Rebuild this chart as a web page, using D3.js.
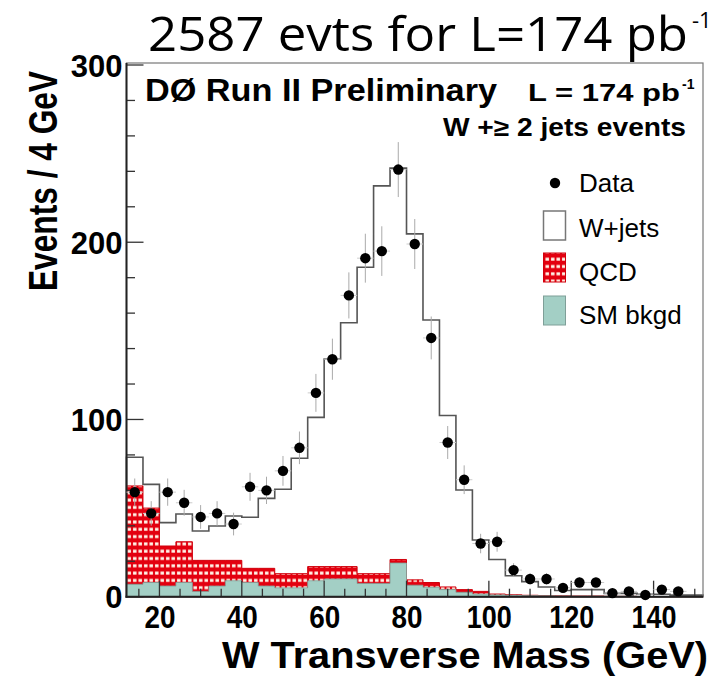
<!DOCTYPE html>
<html><head><meta charset="utf-8">
<script src="https://cdn.jsdelivr.net/npm/d3@7"></script>
<style>body{margin:0;background:#fff}svg{display:block}</style>
</head><body>
<svg id="c" width="728" height="681"></svg>
<script>
// ---- data (4 GeV bins, lower edges) ----
const binLow = [12,16,20,24,28,32,36,40,44,48,52,56,60,64,68,72,76,80,84,88,92,96,100,104,108,112,116,120,124,128,132,136,140,144,148];
const smBkgd = [7,8,6,8,3,6,9,8,6,5,5,9,10,10,7.5,7.5,19,6.5,5.3,4,2.5,1.5,1,0.8,0.6,0.5,0.4,0.3,0.3,0.2,0.2,0.1,0.1,0.1,0.1];
const qcd    = [55.5,42,22.6,23,17.5,14.5,11.5,8,10,8,8,8,7,7,5.5,5.5,2,3,2.7,1.5,1.5,1.5,0.5,0.3,0.2,0.1,0.1,0.1,0.1,0,0,0,0,0,0];
const wjets  = [16.2,13.4,13.2,15.7,16.6,19.4,25,28.8,39.5,47.6,65.1,84.2,117.1,137.6,172.9,218.8,220.8,195.2,148.1,96.7,56.2,29,19.5,10.7,7.7,4.9,3,3.6,3.6,1.7,1.7,1.3,1.3,0.8,0.8];
const dataX  = [14,18,22,26,30,34,38,42,46,50,54,58,62,66,70,74,78,82,86,90,94,98,102,106,110,114,118,122,126,130,134,138,142,146];
const dataY  = [59,47,59,53,45,47,41,62,60,71,84,115,134,170,191,195,241,199,146,87,66,30,31,15,10,10,5,8,8,2,3,1,4,3];
const dataErr= [7.7,6.9,7.7,7.3,6.7,6.9,6.4,7.9,7.7,8.4,9.2,10.7,11.6,13,13.8,14,15.5,14.1,12.1,9.3,8.1,5.5,5.6,3.9,3.2,3.2,2.2,2.8,2.8,1.4,1.7,1,2,1.7];
const xTicks = [20,40,60,80,100,120,140];
const yTicks = [0,100,200,300];
const binWidth = 4;

const svg = d3.select("#c");
const L = 126.5, R = 703, T = 63, B = 596.7;
const x = d3.scaleLinear().domain([12,152]).range([L,R]);
const y = d3.scaleLinear().domain([0,300]).range([B,65]);

// pattern
const defs = svg.append("defs");
const pat = defs.append("pattern").attr("id","qcdpat").attr("patternUnits","userSpaceOnUse")
  .attr("width",5.5).attr("height",7.3).attr("x",L).attr("y",0);
pat.append("rect").attr("width",5.5).attr("height",7.3).attr("fill","#e3000f");
pat.append("rect").attr("x",1).attr("y",2.2).attr("width",3.5).attr("height",3).attr("fill","#fff4e8");

svg.append("rect").attr("width",728).attr("height",681).attr("fill","#fff");

const bins = binLow.map((lo,i)=>({lo, hi:lo+binWidth, sm:smBkgd[i], q:qcd[i], w:wjets[i]}));
const stepPath = (vals)=>{
  let p = `M${x(bins[0].lo)},${y(0)}`;
  bins.forEach((b,i)=>{ p += `L${x(b.lo)},${y(vals[i])}L${x(b.hi)},${y(vals[i])}`; });
  p += `L${x(bins[bins.length-1].hi)},${y(0)}Z`;
  return p;
};
const tot = bins.map(b=>b.sm+b.q+b.w);
const sq = bins.map(b=>b.sm+b.q);
const s = bins.map(b=>b.sm);

const g = svg.append("g");
g.append("path").attr("d",stepPath(tot)).attr("fill","#fff").attr("stroke","#555").attr("stroke-width",1.6);
g.append("path").attr("d",stepPath(sq)).attr("fill","url(#qcdpat)").attr("stroke","#d0000c").attr("stroke-width",1);
g.append("path").attr("d",stepPath(s)).attr("fill","#a3cfc5").attr("stroke","#7f9f98").attr("stroke-width",0.8);

// frame
svg.append("rect").attr("x",L).attr("y",T).attr("width",R-L).attr("height",B-T)
  .attr("fill","none").attr("stroke","#777").attr("stroke-width",1.2);

// axes ticks (inward)
const yMinor = d3.range(0,301,20);
const yAx = svg.append("g");
yMinor.forEach(v=>{
  const major = yTicks.includes(v);
  yAx.append("line").attr("x1",L).attr("x2",L+(major?17:8.5)).attr("y1",y(v)).attr("y2",y(v))
    .attr("stroke","#333").attr("stroke-width",1.3);
});
const xMinor = d3.range(15,152,5);
xMinor.forEach(v=>{
  const major = xTicks.includes(v);
  yAx.append("line").attr("x1",x(v)).attr("x2",x(v)).attr("y1",B).attr("y2",B-(major?16:8))
    .attr("stroke","#333").attr("stroke-width",1.3);
});
svg.append("line").attr("x1",L).attr("x2",L).attr("y1",T).attr("y2",B+1).attr("stroke","#222").attr("stroke-width",2);
svg.append("line").attr("x1",L-1).attr("x2",R).attr("y1",B).attr("y2",B).attr("stroke","#222").attr("stroke-width",2);

// tick labels via d3 axes
const helv = "Liberation Sans, Arial, Helvetica, sans-serif";
const xAxis = d3.axisBottom(x).tickValues(xTicks).tickSize(0).tickPadding(0).tickFormat(d3.format("d"));
const xa = svg.append("g").attr("transform",`translate(0,${B})`).call(xAxis);
xa.select(".domain").remove();
xa.selectAll("text").attr("dy",null).attr("y",31).attr("font-family",helv)
  .attr("font-weight","bold").attr("font-size",31).attr("fill","#000")
  .attr("textLength",d=>d>=100?45:31).attr("lengthAdjust","spacingAndGlyphs");
const yAxis = d3.axisLeft(y).tickValues(yTicks).tickSize(0).tickPadding(0).tickFormat(d3.format("d"));
const ya = svg.append("g").attr("transform",`translate(${L-4},0)`).call(yAxis);
ya.select(".domain").remove();
ya.selectAll("text").attr("dy","0.36em").attr("font-family",helv)
  .attr("font-weight","bold").attr("font-size",31).attr("fill","#000");

// data points
const dg = svg.append("g");
dataX.forEach((cx,i)=>{
  dg.append("line").attr("x1",x(cx)).attr("x2",x(cx)).attr("y1",y(dataY[i]-dataErr[i])).attr("y2",y(dataY[i]+dataErr[i]))
    .attr("stroke","#aaa").attr("stroke-width",1);
  dg.append("line").attr("x1",x(cx-2)).attr("x2",x(cx+2)).attr("y1",y(dataY[i])).attr("y2",y(dataY[i]))
    .attr("stroke","#ccc").attr("stroke-width",1);
});
dg.selectAll("circle").data(dataX).join("circle").attr("cx",d=>x(d)).attr("cy",(d,i)=>y(dataY[i])).attr("r",5.2).attr("fill","#000");

// texts
svg.append("text").attr("x",145).attr("y",101).attr("font-family",helv).attr("font-weight","bold")
  .attr("font-size",32).attr("textLength",352).attr("lengthAdjust","spacingAndGlyphs").text("DØ Run II Preliminary");
svg.append("text").attr("x",528).attr("y",101).attr("font-family",helv).attr("font-weight","bold")
  .attr("font-size",24).attr("textLength",152).attr("lengthAdjust","spacingAndGlyphs").text("L = 174 pb");
svg.append("text").attr("x",682).attr("y",89).attr("font-family",helv).attr("font-weight","bold")
  .attr("font-size",14).text("-1");
svg.append("text").attr("x",686).attr("y",136).attr("text-anchor","end").attr("font-family",helv).attr("font-weight","bold")
  .attr("font-size",25).attr("textLength",243).attr("lengthAdjust","spacingAndGlyphs").text("W +≥ 2 jets events");

// legend
const lg = svg.append("g").attr("font-family",helv).attr("font-size",26);
lg.append("circle").attr("cx",555).attr("cy",183).attr("r",5.2).attr("fill","#000");
lg.append("text").attr("x",579).attr("y",192).text("Data");
lg.append("rect").attr("x",543.5).attr("y",211).attr("width",22).attr("height",29).attr("fill","#fff").attr("stroke","#777").attr("stroke-width",1.5);
lg.append("text").attr("x",579).attr("y",237).text("W+jets");
lg.append("rect").attr("x",543.5).attr("y",253).attr("width",22).attr("height",29).attr("fill","url(#qcdpat)").attr("stroke","#d0000c").attr("stroke-width",1);
lg.append("text").attr("x",579).attr("y",281).text("QCD");
lg.append("rect").attr("x",543.5).attr("y",296).attr("width",22).attr("height",29).attr("fill","#a3cfc5").attr("stroke","#7f9f98").attr("stroke-width",1);
lg.append("text").attr("x",579).attr("y",324).text("SM bkgd");

// axis titles
svg.append("text").attr("transform","translate(57,181) rotate(-90)").attr("text-anchor","middle")
  .attr("font-family",helv).attr("font-weight","bold").attr("font-size",40).attr("textLength",220)
  .attr("lengthAdjust","spacingAndGlyphs").text("Events / 4 GeV");
svg.append("text").attr("x",708).attr("y",668).attr("text-anchor","end")
  .attr("font-family",helv).attr("font-weight","bold").attr("font-size",37).attr("textLength",486)
  .attr("lengthAdjust","spacingAndGlyphs").text("W Transverse Mass  (GeV)");

// top title
svg.append("text").attr("x",148).attr("y",51).attr("font-family","Open Sans, DejaVu Sans, sans-serif")
  .attr("font-size",47).attr("textLength",540).attr("lengthAdjust","spacingAndGlyphs").text("2587 evts for L=174 pb");
svg.append("text").attr("x",692).attr("y",28).attr("font-family","Open Sans, DejaVu Sans, sans-serif")
  .attr("font-size",22).text("-1");
</script>
</body></html>
